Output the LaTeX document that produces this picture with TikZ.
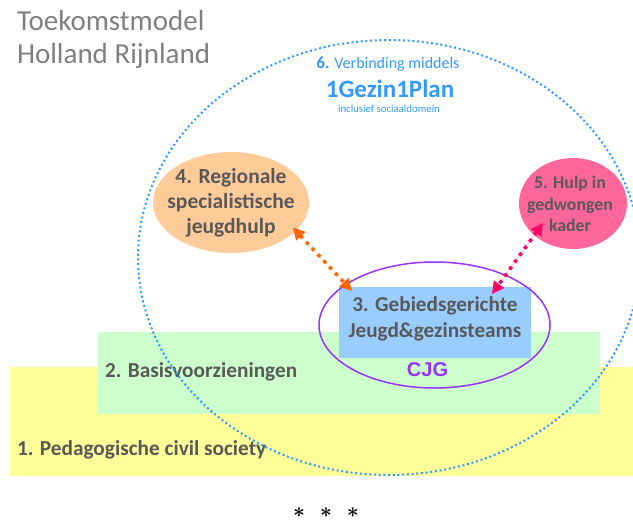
\documentclass[tikz,border=0pt]{standalone}
\usepackage{fontspec}
\setmainfont{Carlito}
\newfontfamily\cjgfont{Liberation Sans}
\usetikzlibrary{shapes.geometric,arrows.meta}

\definecolor{titlegray}{HTML}{7F7F7F}
\definecolor{txtgray}{HTML}{595959}
\definecolor{planblue}{HTML}{3399FF}
\definecolor{civilfill}{HTML}{FFFF99}
\definecolor{basisfill}{HTML}{CCFFCC}
\definecolor{regfill}{HTML}{FFCC99}
\definecolor{regarrow}{HTML}{FF6600}
\definecolor{pinkfill}{HTML}{FF6699}
\definecolor{pinkarrow}{HTML}{FF0066}
\definecolor{teamfill}{HTML}{99CCFF}
\definecolor{cjgpurple}{HTML}{9933FF}

\tikzset{
  plain/.style={inner sep=0pt, outer sep=0pt},
  levellabel/.style={plain, anchor=base west, text=txtgray,
    font=\bfseries\fontsize{21.3}{25}\selectfont},
  bubble/.style={ellipse, inner sep=0pt},
  bubbletext/.style={plain, align=center, text=txtgray},
  planline/.style={draw=planblue, line width=2pt, dash pattern=on 2pt off 2.7pt},
  dotlink/.style={line width=3.5pt, dash pattern=on 3.5pt off 5pt,
    {Triangle[length=12pt,width=12pt]}-{Triangle[length=12pt,width=12pt]}},
}

\begin{document}
\begin{tikzpicture}[x=1pt,y=-1pt]
\useasboundingbox (0,0) rectangle (633,520);

% title
\node[plain, anchor=base west, text=titlegray, font=\fontsize{29}{33}\selectfont] (title1) at (17,30) {Toekomstmodel};
\node[plain, anchor=base west, text=titlegray, font=\fontsize{29}{33}\selectfont] (title2) at (17,63) {Holland Rijnland};

% level bands
\fill[civilfill] (10,367) rectangle (633,476);
\fill[basisfill] (98,332) rectangle (600,414);
\node[levellabel] (civil) at (17,455) {1. Pedagogische civil society};
\node[levellabel] (basis) at (105,377) {2. Basisvoorzieningen};

% 1Gezin1Plan ring
\draw[planline] (389,257.5) ellipse [x radius=251pt, y radius=217.5pt];
\node[plain, anchor=base, text=planblue, font=\fontsize{16}{18}\selectfont] (plan6) at (388,68)
  {{\bfseries\fontsize{17}{18}\selectfont 6.} Verbinding middels};
\node[plain, anchor=base, text=planblue, font=\bfseries\fontsize{25}{28}\selectfont] (plan) at (390,97) {1Gezin1Plan};
\node[plain, anchor=base, text=planblue, font=\fontsize{10.8}{12}\selectfont] (plansub) at (389,112) {inclusief sociaaldomein};

% specialised care
\node[bubble, fill=regfill, minimum width=156pt, minimum height=101pt] (reg) at (231,202.5) {};
\node[bubbletext, font=\bfseries\fontsize{21.5}{25}\selectfont] (regtext) at (231,203)
  {4. Regionale\\specialistische\\jeugdhulp};
\node[bubble, fill=pinkfill, minimum width=108pt, minimum height=91pt] (pk) at (573,203.5) {};
\node[bubbletext, font=\bfseries\fontsize{17.8}{21.5}\selectfont] (pktext) at (570,204)
  {5. Hulp in\\gedwongen\\kader};

% area teams and CJG
\node[plain, fill=teamfill, minimum width=192pt, minimum height=71pt] (teams) at (435,322.5) {};
\node[plain, align=center, text=txtgray, font=\bfseries\fontsize{21.2}{26}\selectfont] (teamstext) at (435,318.5)
  {3. Gebiedsgerichte\\Jeugd\&gezinsteams};
\node[ellipse, draw=cjgpurple, line width=1.5pt, minimum width=231pt, minimum height=126pt, inner sep=0pt] (cjgring) at (434.5,325) {};
\node[plain, anchor=base, text=cjgpurple, font=\cjgfont\bfseries\fontsize{20}{24}\selectfont] (cjg) at (427.5,376) {CJG};

% links
\draw[dotlink, draw=regarrow, fill=regarrow]
  ([xshift=-4.7pt,yshift=1.9pt]reg.-22) -- ([xshift=13pt,yshift=-4pt]teams.north west);
\draw[dotlink, draw=pinkarrow, fill=pinkarrow]
  ([xshift=-30pt,yshift=-19.5pt]pk.center) -- ([xshift=-39pt,yshift=-7pt]teams.north east);

% closing mark
\node[plain, anchor=base, font=\fontsize{22}{24}\selectfont\boldmath] (stars) at (326,517)
  {$\ast$\hspace{15pt}$\ast$\hspace{15pt}$\ast$};
\end{tikzpicture}
\end{document}
